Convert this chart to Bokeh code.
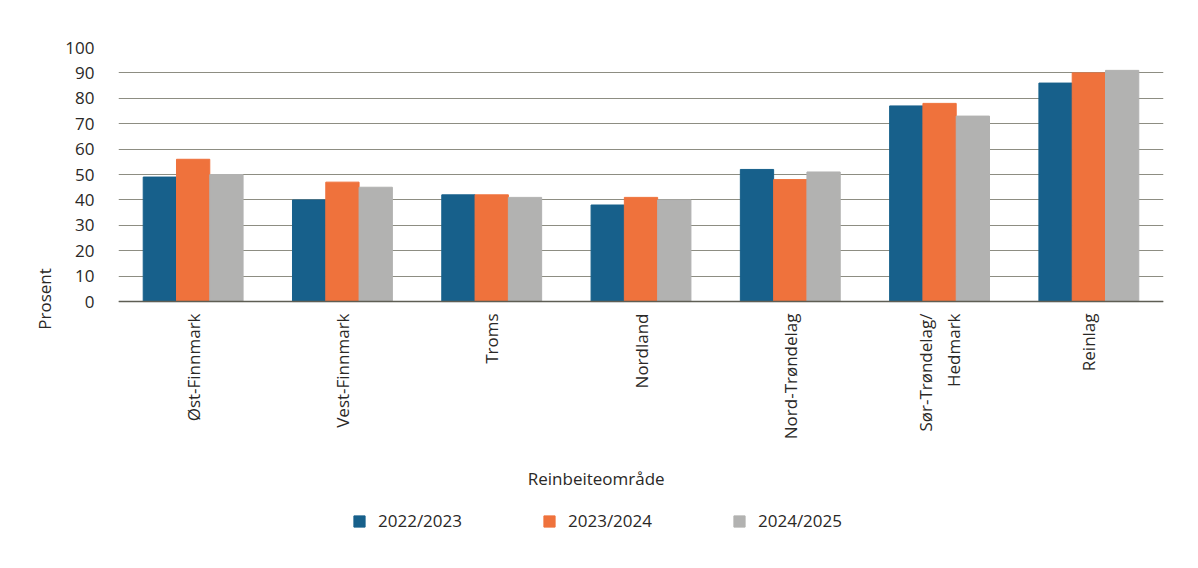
import math
from bokeh.plotting import figure
from bokeh.models import (FactorRange, Legend, LegendItem, ColumnDataSource,
                          FixedTicker, Span, Title)
from bokeh.transform import dodge
from bokeh.core.properties import value
from bokeh.embed import file_html
from bokeh.resources import INLINE

categories = ["Øst-Finnmark", "Vest-Finnmark", "Troms", "Nordland",
              "Nord-Trøndelag", "Sør-Trøndelag/\nHedmark", "Reinlag"]
series_names = ["2022/2023", "2023/2024", "2024/2025"]
v2223 = [49, 40, 42, 38, 52, 77, 86]
v2324 = [56, 47, 42, 41, 48, 78, 90]
v2425 = [50, 45, 41, 40, 51, 73, 91]
y_ticks = [0, 10, 20, 30, 40, 50, 60, 70, 80, 90, 100]
x_title = "Reinbeiteområde"
y_title = "Prosent"
colors = ["#17608b", "#ef723c", "#b2b2b1"]

FONT = "Open Sans"
TXT = "#2a2826"

src = ColumnDataSource(dict(cat=categories, a=v2223, b=v2324, c=v2425))

# y below 0 holds the category labels, title and legend (inside the frame)
p = figure(x_range=FactorRange(*categories), y_range=(-98, 100),
           frame_width=1045, frame_height=503,
           output_backend="svg", toolbar_location=None,
           x_axis_location=None,
           min_border_left=118, min_border_right=19, min_border_top=47,
           min_border_bottom=0)

bw = 0.223
renderers = []
for key, off, col in zip(["a", "b", "c"], [-bw, 0, bw], colors):
    r = p.vbar(x=dodge("cat", off, range=p.x_range), top=key, bottom=0, width=bw,
               source=src, fill_color=col, line_color=col)
    renderers.append(r)

p.add_layout(Span(location=0, dimension="width", line_color="#5e5e54", line_width=1.5))

p.outline_line_color = None
p.xgrid.grid_line_color = None
p.ygrid.ticker = FixedTicker(ticks=y_ticks)
p.ygrid.grid_line_color = "#8d8d82"
p.ygrid.grid_line_width = 1

p.yaxis.ticker = FixedTicker(ticks=y_ticks)
p.yaxis.bounds = (0, 100)
p.yaxis.axis_line_color = None
p.yaxis.major_tick_line_color = None
p.yaxis.minor_tick_line_color = None
p.yaxis.major_label_text_font = FONT
p.yaxis.major_label_text_font_size = "17px"
p.yaxis.major_label_text_color = TXT
p.yaxis.major_label_standoff = 18

# y-axis title as a left-side title, shifted up to the middle of 0..100
p.add_layout(Title(text=y_title, align="center", offset=126, standoff=14,
                   text_font=FONT, text_font_size="17px",
                   text_font_style="normal", text_color=TXT), "left")

# category tick labels (rotated, reading bottom to top)
lab_src = ColumnDataSource(dict(cat=categories, txt=categories,
                                y=[-4.7] * len(categories)))
p.text(x="cat", y="y", text="txt", source=lab_src, angle=math.pi / 2,
       text_align="right", text_baseline="middle",
       text_font=value(FONT), text_font_size="17px", text_color=TXT,
       text_line_height=1.25)

# x-axis title
t_src = ColumnDataSource(dict(cat=["Nordland"], txt=[x_title], y=[-69.7]))
p.text(x=dodge("cat", -0.30, range=p.x_range), y="y", text="txt", source=t_src,
       text_align="center", text_baseline="middle",
       text_font=value(FONT), text_font_size="17px", text_color=TXT)

items = [LegendItem(label=n, renderers=[r]) for n, r in zip(series_names, renderers)]
legend = Legend(items=items, orientation="horizontal", location=(234, 18),
                glyph_width=14, glyph_height=14, label_standoff=12, spacing=80,
                label_text_font=FONT, label_text_font_size="17px",
                label_text_color=TXT, border_line_color=None,
                background_fill_alpha=0, padding=0, margin=0)
p.add_layout(legend, "center")

open("out.html", "w").write(file_html(p, INLINE))
